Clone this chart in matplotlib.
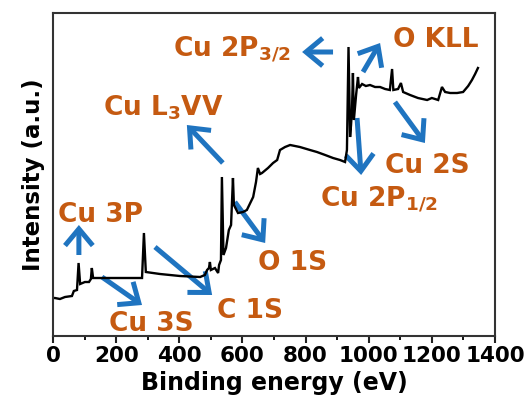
import matplotlib
matplotlib.use("Agg")
import matplotlib.pyplot as plt
from matplotlib.patches import FancyArrowPatch
from matplotlib.ticker import MultipleLocator

# ---- data (binding energy in eV, intensity in arbitrary units) ----
energy = [0, 6, 22, 38, 60, 66, 76, 81, 86, 101, 114, 120, 123, 127, 149, 212,
          282, 288, 294, 339, 402, 466, 481, 488, 494, 497, 500, 513, 523, 526,
          532, 535, 540, 548, 557, 564, 570, 573, 586, 602, 614, 634, 643, 649,
          656, 662, 681, 697, 710, 719, 735, 751, 782, 814, 836, 862, 887, 909,
          925, 931, 936, 941, 944, 947, 950, 953, 960, 966, 969, 979, 991, 1004,
          1020, 1036, 1052, 1067, 1074, 1078, 1093, 1102, 1109, 1131, 1156,
          1185, 1200, 1220, 1232, 1242, 1258, 1280, 1299, 1315, 1327, 1337, 1346]
intensity = [38, 38, 37, 39, 40, 45, 46, 73, 52, 54, 54, 57, 68, 58, 58, 58,
             58, 103, 64, 62, 60, 59, 61, 66, 68, 74, 66, 68, 63, 71,
             76, 159, 81, 88, 106, 111, 158, 131, 123, 124, 126, 139, 154, 168,
             162, 163, 168, 173, 176, 186, 189, 191, 189, 186, 184, 181, 178, 176,
             174, 186, 289, 199, 211, 226, 263, 216, 241, 259, 248, 252, 250, 251,
             249, 249, 247, 246, 267, 246, 247, 253, 244, 241, 238,
             236, 238, 236, 249, 244, 243, 243, 244, 250, 256, 262, 268]

# peak labels, anchor (energy, intensity), arrows tail -> head
labels = ["Cu 3P", "Cu 3S", "C 1S", "O 1S", r"Cu L$_{3}$VV",
          r"Cu 2P$_{3/2}$", "O KLL", "Cu 2S", r"Cu 2P$_{1/2}$"]
label_e = [16, 177, 519, 649, 158, 380, 1077, 1052, 846]
label_i = [114, 5, 18, 66, 221, 279, 289, 163, 129]
arrow_e0 = [82, 155, 323, 576, 538, 887, 982, 1083, 963]
arrow_i0 = [81, 59, 89, 134, 173, 284, 264, 234, 218]
arrow_e1 = [82, 282, 504, 672, 424, 789, 1036, 1178, 976]
arrow_i1 = [111, 31, 41, 93, 211, 284, 293, 193, 161]

xticks = [0, 200, 400, 600, 800, 1000, 1200, 1400]

TEXT_C = "#C55A11"
ARROW_C = "#1F74C0"

plt.rcParams["font.family"] = ["DejaVu Sans"]
plt.rcParams["font.weight"] = "bold"
plt.rcParams["mathtext.default"] = "bf"

fig = plt.figure(figsize=(5.28, 4.07), dpi=100)
ax = fig.add_axes([53 / 528, 1 - 336 / 407, (495 - 53) / 528, (336 - 13) / 407])

ax.plot(energy, intensity, color="black", lw=1.7, solid_joinstyle="miter")

ax.set_xlim(0, 1400)
ax.set_ylim(0, 323)
ax.set_xticks(xticks)
ax.set_xticklabels([str(t) for t in xticks])
ax.xaxis.set_minor_locator(MultipleLocator(100))
ax.set_yticks([])
ax.tick_params(axis="x", which="major", direction="out", length=5, width=1.5,
               labelsize=15.5, pad=2, colors="#222222")
ax.tick_params(axis="x", which="minor", direction="out", length=3, width=1.3)
for lab in ax.get_xticklabels():
    lab.set_fontweight("bold")
    lab.set_color("black")
for s in ax.spines.values():
    s.set_linewidth(1.5)
    s.set_color("#333333")

ax.set_xlabel("Binding energy (eV)", fontsize=17, fontweight="bold", labelpad=4)
ax.set_ylabel("Intensity (a.u.)", fontsize=16.5, fontweight="bold", labelpad=6)

for txt, e, i in zip(labels, label_e, label_i):
    ax.text(e, i, txt, color=TEXT_C, fontsize=19, fontweight="bold",
            ha="left", va="baseline")

for e0, i0, e1, i1 in zip(arrow_e0, arrow_i0, arrow_e1, arrow_i1):
    arr = FancyArrowPatch((e0, i0), (e1, i1),
                          arrowstyle="->,head_length=0.6,head_width=0.5",
                          mutation_scale=20, lw=3.6, color=ARROW_C,
                          shrinkA=0, shrinkB=0, joinstyle="miter",
                          capstyle="butt")
    ax.add_patch(arr)

fig.savefig("out.png", dpi=100)
